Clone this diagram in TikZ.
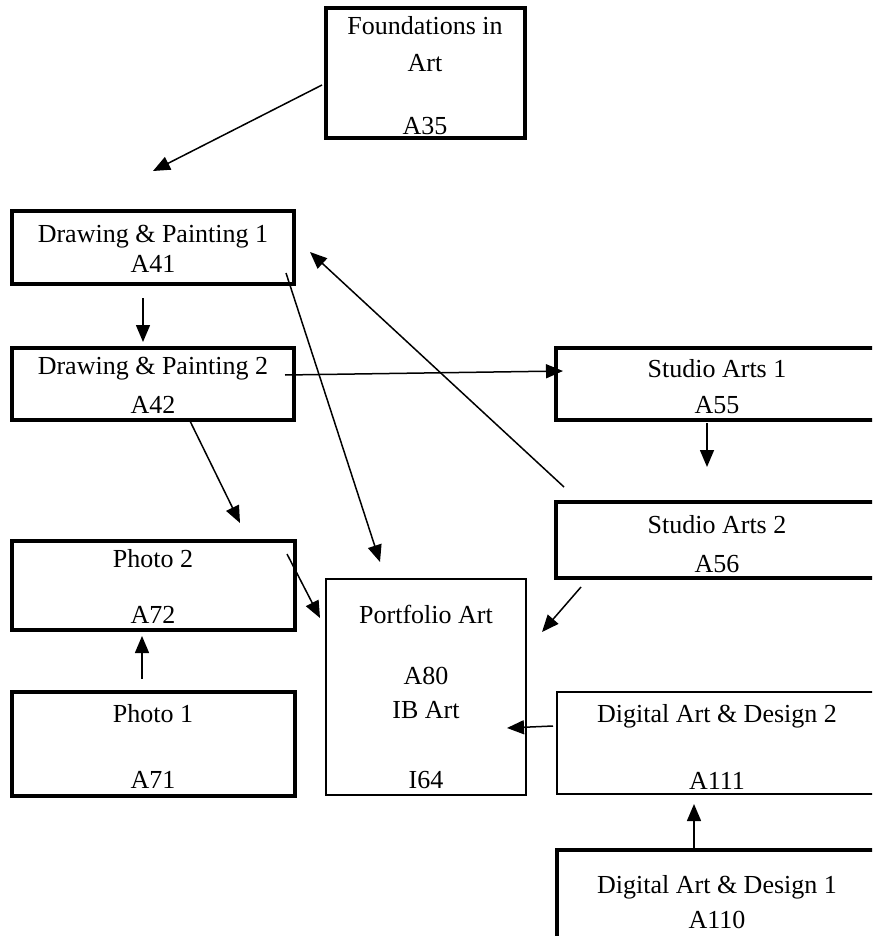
\documentclass[tikz,border=0pt]{standalone}
\usepackage{fontspec}
\setmainfont{Liberation Serif}
\usetikzlibrary{arrows.meta}
\begin{document}
\begin{tikzpicture}[x=1pt,y=-1pt,
  boxthick/.style={draw=black, line width=3.2pt, inner sep=0pt, rectangle},
  boxthin/.style={draw=black, line width=1.9pt, inner sep=0pt, rectangle},
  txt/.style={anchor=base, inner sep=0pt, font=\fontsize{26}{30}\selectfont},
  conn/.style={line width=1.5pt, -{Triangle[length=17pt,width=14pt]}}]
\useasboundingbox (0,0) rectangle (872,936);
\clip (0,0) rectangle (872,936);

% boxes
\node[boxthick, minimum width=199pt, minimum height=130pt] (found) at (425.5,73) {};
\node[boxthick, minimum width=282pt, minimum height=73pt] (dp1) at (153,247.5) {};
\node[boxthick, minimum width=282pt, minimum height=72pt] (dp2) at (153,384) {};
\node[boxthick, minimum width=322pt, minimum height=72pt] (sa1) at (717,384) {};
\node[boxthick, minimum width=322pt, minimum height=76pt] (sa2) at (717,540) {};
\node[boxthick, minimum width=283pt, minimum height=89pt] (ph2) at (153.5,585.5) {};
\node[boxthick, minimum width=283pt, minimum height=104pt] (ph1) at (153.5,744) {};
\node[boxthin, minimum width=200pt, minimum height=216pt] (port) at (426,687) {};
\node[boxthin, minimum width=321pt, minimum height=102pt] (dad2) at (717.5,743) {};
\node[boxthick, minimum width=321pt, minimum height=100pt] (dad1) at (717.5,900) {};

% texts
\node[txt] (found1) at (425,35) {Foundations in};
\node[txt] (found2) at (425,72) {Art};
\node[txt] (found3) at (425,135) {A35};
\node[txt] (dp1a) at (153,242) {Drawing \& Painting 1};
\node[txt] (dp1b) at (153,272) {A41};
\node[txt] (dp2a) at (153,374) {Drawing \& Painting 2};
\node[txt] (dp2b) at (153,413) {A42};
\node[txt] (sa1a) at (717,377) {Studio Arts 1};
\node[txt] (sa1b) at (717,413) {A55};
\node[txt] (sa2a) at (717,533) {Studio Arts 2};
\node[txt] (sa2b) at (717,572) {A56};
\node[txt] (ph2a) at (153,567) {Photo 2};
\node[txt] (ph2b) at (153,623) {A72};
\node[txt] (ph1a) at (153,722) {Photo 1};
\node[txt] (ph1b) at (153,788) {A71};
\node[txt] (porta) at (426,623) {Portfolio Art};
\node[txt] (portb) at (426,684) {A80};
\node[txt] (portc) at (426,718) {IB Art};
\node[txt] (portd) at (426,788) {I64};
\node[txt] (dad2a) at (717,722) {Digital Art \& Design 2};
\node[txt] (dad2b) at (717,789) {A111};
\node[txt] (dad1a) at (717,893) {Digital Art \& Design 1};
\node[txt] (dad1b) at (717,928) {A110};

% connector end points
\coordinate (c1s) at (322,85);   \coordinate (c1e) at (153,171);
\coordinate (c2s) at (143,298);  \coordinate (c2e) at (143,342);
\coordinate (c3s) at (285,375);  \coordinate (c3e) at (563,371);
\coordinate (c4s) at (286,273);  \coordinate (c4e) at (380,562);
\coordinate (c5s) at (564,487);  \coordinate (c5e) at (310,252);
\coordinate (c6s) at (707,423);  \coordinate (c6e) at (707,467);
\coordinate (c7s) at (190,421);  \coordinate (c7e) at (240,523);
\coordinate (c8s) at (581,587);  \coordinate (c8e) at (542,632);
\coordinate (c9s) at (287,554);  \coordinate (c9e) at (320,618);
\coordinate (c10s) at (142,679); \coordinate (c10e) at (142,636);
\coordinate (c11s) at (553,726); \coordinate (c11e) at (507,728);
\coordinate (c12s) at (694,848); \coordinate (c12e) at (694,804);

\draw[conn] (c1s) -- (c1e);
\draw[conn] (c2s) -- (c2e);
\draw[conn] (c3s) -- (c3e);
\draw[conn] (c4s) -- (c4e);
\draw[conn] (c5s) -- (c5e);
\draw[conn] (c6s) -- (c6e);
\draw[conn] (c7s) -- (c7e);
\draw[conn] (c8s) -- (c8e);
\draw[conn] (c9s) -- (c9e);
\draw[conn] (c10s) -- (c10e);
\draw[conn] (c11s) -- (c11e);
\draw[conn] (c12s) -- (c12e);
\end{tikzpicture}
\end{document}
